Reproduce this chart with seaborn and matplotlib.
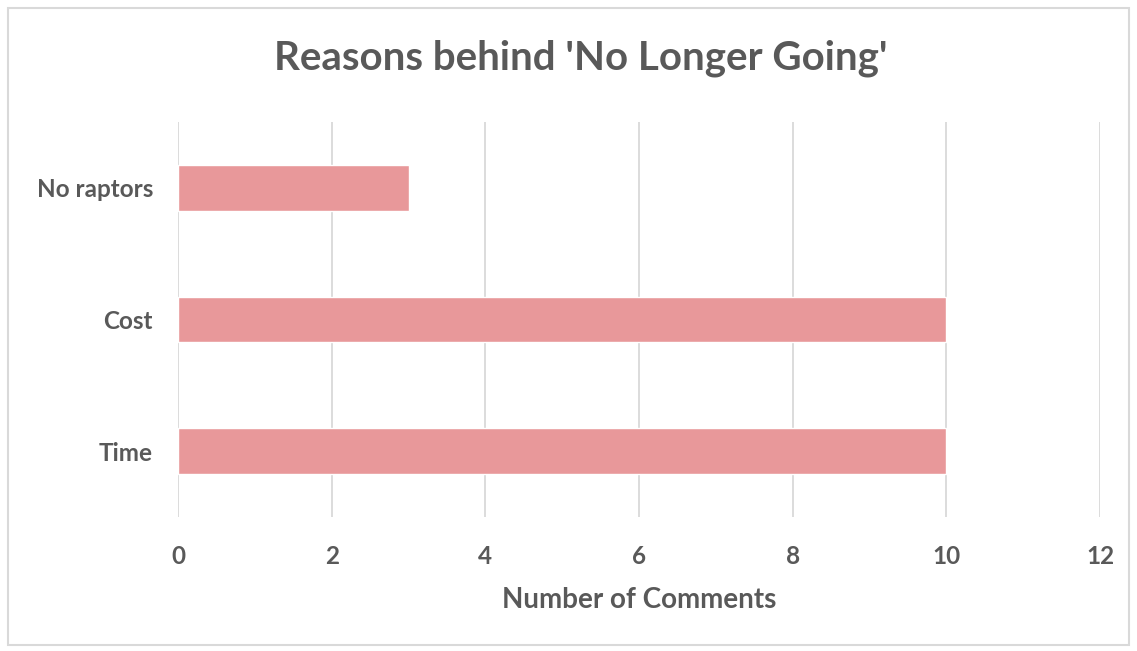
import matplotlib
matplotlib.use("Agg")
import matplotlib.pyplot as plt
import seaborn as sns
import pandas as pd
from matplotlib.patches import Rectangle

categories = ["No raptors", "Cost", "Time"]
values = [3, 10, 10]
xticks = [0, 2, 4, 6, 8, 10, 12]

sns.set_theme(style="white")
plt.rcParams['font.family'] = ['Lato', 'DejaVu Sans']

df = pd.DataFrame({"Reason": categories, "Comments": values})

fig = plt.figure(figsize=(11.37, 6.51), dpi=100)
ax = fig.add_axes([0.1566, 0.2058, 0.9675 - 0.1566, 0.8126 - 0.2058])

sns.barplot(data=df, x="Comments", y="Reason", orient="h", color="#E8989A",
            saturation=1, width=0.345, ax=ax, zorder=3)

ax.set_xlim(0, 12)
ax.set_ylim(2.5, -0.5)
ax.set_xticks(xticks)
ax.set_xticklabels([str(t) for t in xticks])
ax.grid(axis="x", color="#D9D9D9", linewidth=1.3, zorder=0)
ax.set_axisbelow(True)
for s in ax.spines.values():
    s.set_visible(False)
ax.tick_params(axis="both", length=0, colors="#595959", labelsize=17.5)
ax.tick_params(axis="x", pad=20)
ax.tick_params(axis="y", pad=18)
for lbl in ax.get_xticklabels() + ax.get_yticklabels():
    lbl.set_fontweight("bold")
ax.set_ylabel("")
ax.set_xlabel("Number of Comments", color="#595959", fontsize=20, fontweight="bold", labelpad=14)

fig.text(0.511, 0.91, "Reasons behind 'No Longer Going'", ha="center", va="center",
         fontsize=29, fontweight="bold", color="#595959")

fig.patches.append(Rectangle((8/1137, 6/651), 1 - 16/1137, 1 - 14/651, transform=fig.transFigure,
                             fill=False, edgecolor="#D9D9D9", linewidth=1.5))

fig.savefig("out.png", dpi=100, facecolor="white")
